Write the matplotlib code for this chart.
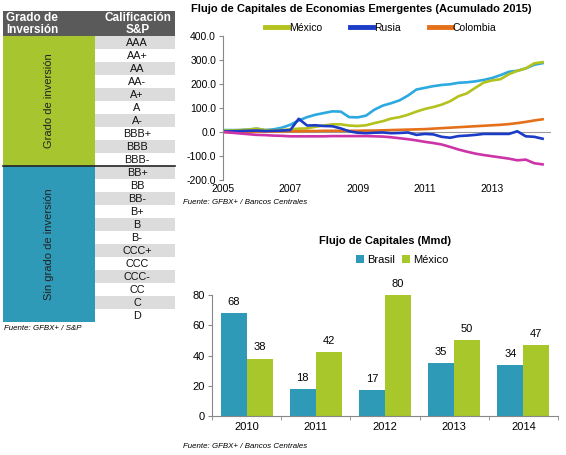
import numpy as np
import matplotlib
matplotlib.use('Agg')
import matplotlib.pyplot as plt
from matplotlib.patches import Rectangle
from matplotlib.lines import Line2D

plt.rcParams['font.family'] = ['Liberation Sans', 'DejaVu Sans']

# rating table
ratings_inv = ['AAA', 'AA+', 'AA', 'AA-', 'A+', 'A', 'A-', 'BBB+', 'BBB', 'BBB-']
ratings_no = ['BB+', 'BB', 'BB-', 'B+', 'B', 'B-', 'CCC+', 'CCC', 'CCC-', 'CC', 'C', 'D']

# line chart (quarterly, 2005.0 - 2014.5)
years_q = np.arange(2005.0, 2014.51, 0.25)
mexico_l = [6, 6, 8, 10, 14, 8, 7, 8, 11, 14, 15, 22, 27, 32, 32, 27, 25, 28, 37, 45,
            56, 62, 72, 85, 96, 104, 114, 128, 149, 161, 184, 206, 215, 220, 241, 255,
            265, 286, 291]
rusia_l = [2, 3, 4, 5, 6, 4, 5, 6, 8, 55, 27, 28, 25, 24, 15, 3, -3, -5, -3, -2,
           -5, -4, -2, -12, -8, -10, -20, -24, -17, -15, -12, -8, -8, -8, -8, 3,
           -18, -20, -28]
colombia_l = [0, 0, 1, 1, 2, 2, 2, 3, 3, 3, 4, 4, 5, 5, 5, 5, 5, 6, 6, 7,
              8, 9, 10, 11, 12, 14, 16, 18, 20, 22, 24, 26, 28, 30, 33, 37,
              42, 48, 53]
cyan_l = [8, 8, 8, 10, 14, 8, 11, 18, 30, 48, 62, 72, 79, 86, 85, 62, 61, 68, 93, 110,
          120, 132, 152, 177, 184, 191, 196, 199, 205, 207, 211, 217, 225, 237, 251, 255,
          265, 280, 287]
magenta_l = [0, -3, -6, -9, -12, -13, -15, -16, -18, -18, -18, -18, -18, -17, -17, -17,
             -17, -17, -18, -19, -22, -26, -30, -35, -41, -46, -52, -62, -73, -82, -90, -96,
             -101, -106, -111, -118, -115, -130, -135]

# bar chart
bar_years = ['2010', '2011', '2012', '2013', '2014']
brasil = [68, 18, 17, 35, 34]
mexico_b = [38, 42, 80, 50, 47]

W, H = 566, 455
fig = plt.figure(figsize=(W / 100, H / 100), dpi=100)

green = '#A6C52E'
teal = '#2F9AB8'

# ---- table drawn in pixel coords
tab = fig.add_axes([0, 0, 1, 1])
tab.set_xlim(0, W)
tab.set_ylim(H, 0)
tab.axis('off')

top, hdr_h, row_h = 11, 25, 13.0
x0, xc, x1 = 3, 95, 175
tab.add_patch(Rectangle((x0, top), x1 - x0, hdr_h, color='#5A5A5A', lw=0))
tab.text(6, top + hdr_h / 2 + 0.5, 'Grado de\nInversión', color='white', fontsize=8.5,
         fontweight='bold', va='center', ha='left', linespacing=1.05)
tab.text(138, top + hdr_h / 2 + 0.5, 'Calificación\nS&P', color='white', fontsize=8.5,
         fontweight='bold', va='center', ha='center', linespacing=1.05)

all_r = ratings_inv + ratings_no
y = top + hdr_h
for i, r in enumerate(all_r):
    fc = '#DCDCDC' if i % 2 == 0 else 'white'
    tab.add_patch(Rectangle((xc, y + i * row_h), x1 - xc, row_h, color=fc, lw=0))
    tab.text((xc + x1) / 2 + 2, y + i * row_h + row_h / 2 + 0.5, r, fontsize=7.8,
             ha='center', va='center', color='#111111')

n1 = len(ratings_inv)
n2 = len(ratings_no)
tab.add_patch(Rectangle((x0, y), xc - x0, n1 * row_h, color=green, lw=0))
tab.add_patch(Rectangle((x0, y + n1 * row_h), xc - x0, n2 * row_h, color=teal, lw=0))
tab.plot([x0, x1], [y + n1 * row_h, y + n1 * row_h], color='#222222', lw=1.2)
tab.text((x0 + xc) / 2, y + n1 * row_h / 2, 'Grado de inversión', rotation=90,
         fontsize=8, ha='center', va='center', color='#222222')
tab.text((x0 + xc) / 2, y + n1 * row_h + n2 * row_h / 2, 'Sin grado de inversión',
         rotation=90, fontsize=8, ha='center', va='center', color='#222222')
tab.text(4, 328, 'Fuente: GFBX+ / S&P', fontsize=5.7, style='italic', va='center')
tab.text(183, 202, 'Fuente: GFBX+ / Bancos Centrales', fontsize=5.7, style='italic', va='center')
tab.text(183, 447, 'Fuente: GFBX+ / Bancos Centrales', fontsize=5.7, style='italic', va='center')

# ---- line chart
ax1 = fig.add_axes([223 / W, 1 - 180 / H, 328 / W, 144 / H])
ax1.plot(years_q, cyan_l, color='#2BA9E0', lw=1.9)
ax1.plot(years_q, mexico_l, color='#B3C21C', lw=1.9)
ax1.plot(years_q, colombia_l, color='#E5701A', lw=1.9)
ax1.plot(years_q, rusia_l, color='#1A3CC6', lw=1.9)
ax1.plot(years_q, magenta_l, color='#CC34A8', lw=1.9)
ax1.axhline(0, color='#9A9A9A', lw=0.8, zorder=0)
ax1.set_xlim(2005, 2014.75)
ax1.set_ylim(-200, 400)
ax1.set_yticks(range(-200, 401, 100))
ax1.set_yticklabels(['%.1f' % v for v in range(-200, 401, 100)])
ax1.set_xticks([2005, 2007, 2009, 2011, 2013])
ax1.set_xticklabels(['2005', '2007', '2009', '2011', '2013'])
for s in ['top', 'right', 'bottom']:
    ax1.spines[s].set_visible(False)
ax1.spines['left'].set_color('#888888')
ax1.tick_params(axis='y', length=3, color='#888888', labelsize=7.5, pad=2)
ax1.tick_params(axis='x', length=0, labelsize=7.5, pad=3)
ax1.set_title('Flujo de Capitales de Economias Emergentes (Acumulado 2015)',
              fontsize=8, fontweight='bold', pad=17, x=0.42)
handles = [Line2D([], [], color='#B3C21C', lw=3.5),
           Line2D([], [], color='#1A3CC6', lw=3.5),
           Line2D([], [], color='#E5701A', lw=3.5)]
ax1.legend(handles, ['México', 'Rusia', 'Colombia'], loc='lower center',
           bbox_to_anchor=(0.48, 0.985), ncol=3, frameon=False, fontsize=7.5,
           handlelength=2.2, handletextpad=0.1, columnspacing=2.7, borderpad=0)
ax1.patch.set_alpha(0)

# ---- bar chart
ax2 = fig.add_axes([212 / W, 1 - 416 / H, 346 / W, 121 / H])
xb = np.arange(len(bar_years))
bw = 0.375
b1 = ax2.bar(xb - bw / 2, brasil, bw, color=teal, label='Brasil')
b2 = ax2.bar(xb + bw / 2, mexico_b, bw, color='#A7C72A', label='México')
for bars, vals in [(b1, brasil), (b2, mexico_b)]:
    for b, v in zip(bars, vals):
        ax2.text(b.get_x() + b.get_width() / 2, v + 4, str(v), ha='center',
                 va='bottom', fontsize=8, clip_on=False)
ax2.set_xlim(-0.5, len(bar_years) - 0.5)
ax2.set_ylim(0, 80)
ax2.set_yticks(range(0, 81, 20))
ax2.set_xticks(xb)
ax2.set_xticklabels(bar_years)
ax2.set_xticks(np.arange(-0.5, len(bar_years), 1), minor=True)
for s in ['top', 'right']:
    ax2.spines[s].set_visible(False)
ax2.spines['left'].set_color('#888888')
ax2.spines['bottom'].set_color('#888888')
ax2.tick_params(axis='y', length=3, color='#888888', labelsize=8, pad=2)
ax2.tick_params(axis='x', which='major', length=0, labelsize=8, pad=4)
ax2.tick_params(axis='x', which='minor', length=3, color='#888888')
ax2.set_title('Flujo de Capitales (Mmd)', fontsize=8, fontweight='bold', pad=37, x=0.5)
ax2.legend(loc='lower center', bbox_to_anchor=(0.55, 1.2), ncol=2, frameon=False,
           fontsize=8, handlelength=0.7, handleheight=0.7, handletextpad=0.3,
           columnspacing=0.6, borderpad=0)

fig.savefig('out.png', dpi=100)
